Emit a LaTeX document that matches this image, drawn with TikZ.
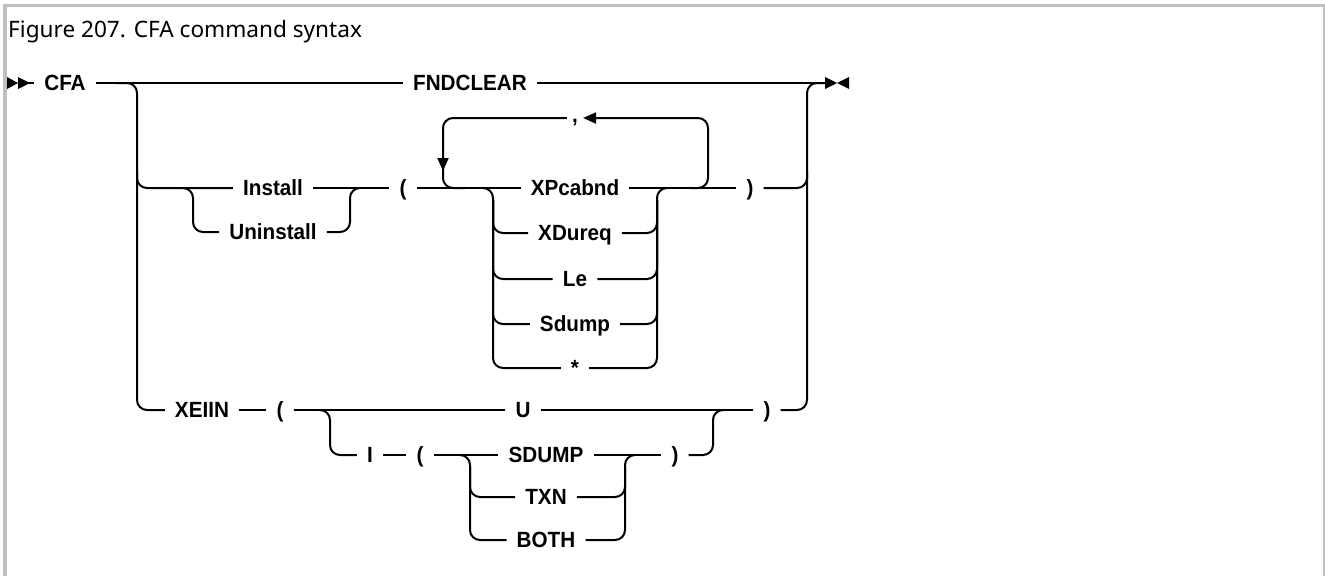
\documentclass[tikz,border=0pt]{standalone}
\usepackage{fontspec}
\setmainfont{Noto Sans}
\newfontfamily\railfont{Liberation Sans}[FakeStretch=0.94]
\usetikzlibrary{arrows.meta}

\begin{document}
\begin{tikzpicture}[x=1pt,y=-1pt,>={Triangle[length=13pt,width=11pt]},
  rail/.style={line width=2pt,rounded corners=10pt},
  kw/.style={font=\railfont\bfseries\fontsize{22}{26}\selectfont,inner xsep=10pt,inner ysep=0pt,text height=15.8pt,text depth=0pt}]
\useasboundingbox (0,0) rectangle (1325,576);
% frame, open at the bottom
\draw[gray!50,line width=4pt] (4.7,576)--(4.7,5.8); \draw[gray!50,line width=3pt] (3,5.8)--(1324.5,5.8); \draw[gray!50,line width=2pt] (1323.5,4.5)--(1323.5,576);
\node[anchor=base west,font=\fontsize{22.6}{27}\selectfont,inner sep=0pt] (title) at (8,37) {Figure 207. CFA command syntax};
% start and stop marks
\coordinate (start) at (18,83); \coordinate (stop) at (825,83);
\fill (7,77)--(18,83)--(7,89)--cycle; \fill (18,77)--(30,83)--(18,89)--cycle;
\fill (825,77)--(837,83)--(825,89)--cycle; \fill (849,77)--(837,83)--(849,89)--cycle;
% keywords
\node[kw] (cfa) at (65,83) {CFA};
\node[kw] (fndclear) at (470,83) {FNDCLEAR};
\node[kw] (install) at (273,188) {Install};
\node[kw] (uninstall) at (273,232) {Uninstall};
\node[kw] (lpar) at (403,188) {(};
\node[kw,inner xsep=5pt] (comma) at (575,118) {\raisebox{3pt}{,}};
\foreach \t/\y/\n in {XPcabnd/188/xp,XDureq/233/xd,Le/279/le,Sdump/324/sd,*/368/st}{\node[kw] (\n) at (575,\y) {\t};}
\node[kw] (rpar) at (750,188) {)};
\node[kw] (xeiin) at (202,410) {XEIIN};
\node[kw] (lpar2) at (280,410) {(};
\node[kw] (u) at (523,410) {U};
\node[kw] (rpar2) at (767,410) {)};
\node[kw] (i) at (370,455) {I};
\node[kw] (lpar3) at (420,455) {(};
\foreach \t/\y/\n in {SDUMP/455/sdump,TXN/497/txn,BOTH/540/both}{\node[kw] (\n) at (546,\y) {\t};}
\node[kw] (rpar3) at (675,455) {)};
% main line
\draw[rail] (start) -- (cfa.west); \draw[rail] (cfa.east) -- (fndclear.west); \draw[rail] (fndclear.east) -- (stop);
\draw[rail] (117,83) -| (137,410) -- (xeiin.west);
\draw[rail] (rpar2.east) -| (807,83) -- (stop);
% Install / Uninstall
\draw[rail] (137,170) |- (install.west);
\draw[rail] (183,188) -| (193,232) -- (uninstall.west);
\draw[rail] (uninstall.east) -| (350,188) -- (360,188);
\draw[rail] (install.east) -- (lpar.west); \draw[rail] (lpar.east) -- (xp.west);
% repeat loop
\draw[rail,->] (690,188) -| (708,118) -- (comma.east);
\draw[rail,->] (comma.west) -| (443,171);
\draw[rail] (443,160) |- (465,188);
% choices
\draw[rail] (483,188) -| (493,368) -- (st.west);
\draw[rail] (st.east) -| (657,188) -- (667,188);
\foreach \n in {xd,le,sd}{\draw[rail] (493,200) |- (\n.west); \draw[rail] (\n.east) -| (657,200);}
\draw[rail] (xp.east) -- (rpar.west);
\draw[rail] (rpar.east) -| (807,170);
% XEIIN
\draw[rail] (xeiin.east) -- (lpar2.west); \draw[rail] (lpar2.east) -- (u.west); \draw[rail] (u.east) -- (rpar2.west);
\draw[rail] (320,410) -| (330,455) -- (i.west);
\draw[rail] (i.east) -- (lpar3.west); \draw[rail] (lpar3.east) -- (sdump.west);
\draw[rail] (460,455) -| (470,540) -- (both.west);
\draw[rail] (470,467) |- (txn.west);
\draw[rail] (both.east) -| (625,455) -- (635,455);
\draw[rail] (txn.east) -| (625,467);
\draw[rail] (sdump.east) -- (rpar3.west);
\draw[rail] (rpar3.east) -| (713,410) -- (725,410);
\end{tikzpicture}
\end{document}
